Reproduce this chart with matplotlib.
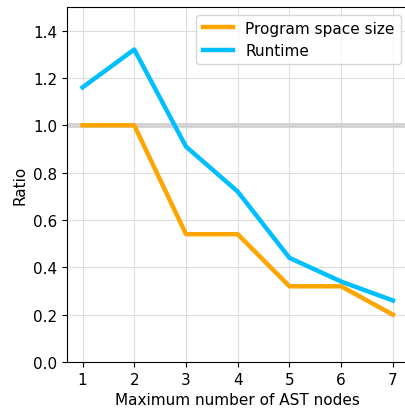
import matplotlib.pyplot as plt

nodes = [1, 2, 3, 4, 5, 6, 7]
space_ratio = [1.0, 1.0, 0.54, 0.54, 0.32, 0.32, 0.2]
runtime_ratio = [1.16, 1.32, 0.91, 0.72, 0.44, 0.34, 0.26]

plt.rcParams['font.size'] = 11

fig = plt.figure(figsize=(4.06, 4.14), dpi=100)
ax = fig.add_axes([0.165, 0.123, 0.841, 0.858])

ax.axhline(1.0, color='#d3d3d3', lw=3.5, zorder=1)
ax.plot(nodes, space_ratio, color='#FFA500', lw=3.2, label='Program space size', zorder=3)
ax.plot(nodes, runtime_ratio, color='#00BFFF', lw=3.2, label='Runtime', zorder=3)

ax.set_ylim(0, 1.5)
ax.set_xlim(0.7, 7.3)
ax.set_yticks([0.0, 0.2, 0.4, 0.6, 0.8, 1.0, 1.2, 1.4])
ax.grid(True, color='#dddddd', lw=0.8, zorder=0)
ax.set_axisbelow(True)
ax.set_xlabel('Maximum number of AST nodes')
ax.set_ylabel('Ratio')
ax.legend(loc='upper right')

plt.savefig('out.png', dpi=100)
